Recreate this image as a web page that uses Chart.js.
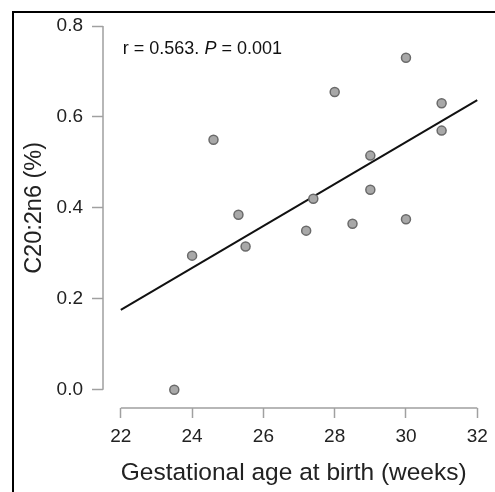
<!DOCTYPE html>
<html>
<head>
<meta charset="utf-8">
<script src="https://cdn.jsdelivr.net/npm/chart.js@4/dist/chart.umd.min.js"></script>
<style>
    html, body { margin: 0; padding: 0; background: #fff; }
    #wrap { position: relative; width: 495px; height: 492px; }
    #frame {
        position: absolute; left: 12px; top: 11px; right: -4px; bottom: -4px;
        border-top: 2px solid #000; border-left: 2px solid #000;
        pointer-events: none;
    }
</style>
</head>
<body>
<div id="wrap">
    <canvas id="scatterChart" width="495" height="492"></canvas>
    <div id="frame"></div>
</div>
<script>
// gestational age (weeks) and C20:2n6 (%)
var ages = [23.5, 24.0, 24.6, 25.3, 25.5, 27.2, 27.4, 28.0, 28.5, 29.0, 29.0, 30.0, 30.0, 31.0, 31.0];
var c20 = [0.0, 0.295, 0.55, 0.385, 0.315, 0.35, 0.42, 0.655, 0.365, 0.515, 0.44, 0.73, 0.375, 0.63, 0.57];

// fitted line end points
var fitX = [22, 32];
var fitY = [0.176, 0.637];

var xTicks = [22, 24, 26, 28, 30, 32];
var yTicks = [0.0, 0.2, 0.4, 0.6, 0.8];

var fontFamily = '"Liberation Sans", Arial, sans-serif';
var axisGrey = '#a0a0a0';

var points = ages.map(function (a, i) {
    return { x: a, y: c20[i] };
});
var fitLine = fitX.map(function (x, i) {
    return { x: x, y: fitY[i] };
});

// R-style range frame axes, y title and the r / P label
var rangeFrame = {
    id: 'rangeFrame',
    afterDraw: function (chart) {
        var ctx = chart.ctx;
        var xs = chart.scales.x;
        var ys = chart.scales.y;
        var area = chart.chartArea;
        var y0 = ys.getPixelForValue(yTicks[0]);
        var y1 = ys.getPixelForValue(yTicks[yTicks.length - 1]);
        ctx.save();
        ctx.strokeStyle = axisGrey;
        ctx.lineWidth = 1.5;
        ctx.beginPath();
        ctx.moveTo(area.left, y0);
        ctx.lineTo(area.left, y1);
        ctx.moveTo(xs.getPixelForValue(xTicks[0]), area.bottom);
        ctx.lineTo(xs.getPixelForValue(xTicks[xTicks.length - 1]), area.bottom);
        ctx.stroke();

        // y axis title, centred on the 0.0 - 0.8 range
        ctx.save();
        ctx.translate(35, (y0 + y1) / 2);
        ctx.rotate(-Math.PI / 2);
        ctx.fillStyle = '#222';
        ctx.font = '23.5px ' + fontFamily;
        ctx.textAlign = 'center';
        ctx.textBaseline = 'middle';
        ctx.fillText('C20:2n6 (%)', 0, 0);
        ctx.restore();

        // annotation
        var tx = xs.getPixelForValue(22) + 2;
        var ty = ys.getPixelForValue(0.75);
        ctx.fillStyle = '#111';
        ctx.textBaseline = 'middle';
        ctx.textAlign = 'left';
        var parts = [
            { t: 'r = 0.563. ', f: '18px ' + fontFamily },
            { t: 'P', f: 'italic 18px ' + fontFamily },
            { t: ' = 0.001', f: '18px ' + fontFamily }
        ];
        parts.forEach(function (p) {
            ctx.font = p.f;
            ctx.fillText(p.t, tx, ty);
            tx += ctx.measureText(p.t).width;
        });
        ctx.restore();
    }
};

var ctx = document.getElementById('scatterChart').getContext('2d');
var scatterChart = new Chart(ctx, {
    type: 'scatter',
    data: {
        datasets: [{
            type: 'line',
            data: fitLine,
            borderColor: '#111',
            borderWidth: 2,
            pointRadius: 0,
            fill: false,
            order: 1
        }, {
            data: points,
            backgroundColor: '#a8a8a8',
            borderColor: '#6a6a6a',
            borderWidth: 1.5,
            pointRadius: 4.5,
            order: 0
        }]
    },
    options: {
        responsive: false,
        animation: false,
        layout: {
            padding: { left: 0, top: 26, right: 9, bottom: 0 }
        },
        plugins: {
            legend: { display: false },
            tooltip: { enabled: false }
        },
        scales: {
            x: {
                type: 'linear',
                min: 21.5,
                max: 32.2,
                afterBuildTicks: function (scale) {
                    scale.ticks = xTicks.map(function (v) { return { value: v }; });
                },
                afterFit: function (scale) { scale.height = 84; },
                border: { display: false },
                grid: {
                    drawOnChartArea: false,
                    drawTicks: true,
                    tickLength: 10,
                    tickWidth: 1.5,
                    color: axisGrey
                },
                ticks: {
                    color: '#222',
                    padding: 7,
                    maxRotation: 0,
                    font: { family: fontFamily, size: 19 }
                },
                title: {
                    display: true,
                    text: 'Gestational age at birth (weeks)',
                    color: '#222',
                    padding: { top: 0, bottom: 4 },
                    font: { family: fontFamily, size: 24.5 }
                }
            },
            y: {
                type: 'linear',
                min: -0.04,
                max: 0.8,
                afterBuildTicks: function (scale) {
                    scale.ticks = yTicks.map(function (v) { return { value: v }; });
                },
                afterFit: function (scale) { scale.width = 103; },
                border: { display: false },
                grid: {
                    drawOnChartArea: false,
                    drawTicks: true,
                    tickLength: 11,
                    tickWidth: 1.5,
                    color: axisGrey
                },
                ticks: {
                    color: '#222',
                    padding: 9,
                    font: { family: fontFamily, size: 19 },
                    callback: function (v) { return Number(v).toFixed(1); }
                },
                title: { display: false }
            }
        }
    },
    plugins: [rangeFrame]
});
</script>
</body>
</html>
